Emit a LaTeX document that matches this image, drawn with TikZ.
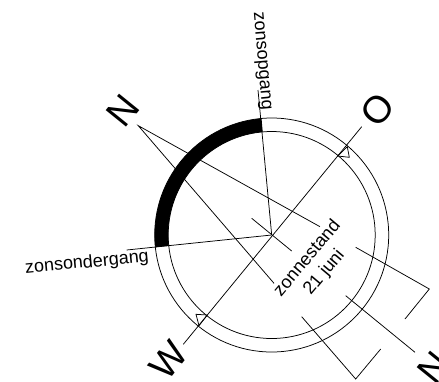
\documentclass[tikz,border=0pt]{standalone}
\usepackage{fontspec}
\setmainfont{Liberation Sans}
\usetikzlibrary{calc}
\begin{document}
\begin{tikzpicture}[x=1pt,y=-1pt,
  ln/.style={draw=black,line width=0.75pt},
  lab/.style={font=\fontsize{18}{22}\selectfont,inner sep=0pt,align=center},
  big/.style={font=\fontsize{38}{38}\selectfont,inner sep=0pt,rotate=51}]
\useasboundingbox (0,0) rectangle (439,381);
\clip (0,0) rectangle (439,381);
\coordinate (c) at (271.7,235);
% rings and black sunlit arc
\fill[black] (c) ++(95:117pt) arc[start angle=95,end angle=186,radius=117pt]
  -- ($(c)+(186:103.5pt)$) arc[start angle=186,end angle=95,radius=103.5pt] -- cycle;
\draw[ln] (c) circle[radius=117pt];
\draw[ln] (c) circle[radius=103.5pt];
% named end points
\coordinate (rise) at (258,90);
\coordinate (set) at (126.7,250);
\coordinate (o) at (361.7,126.7);
\coordinate (w) at (183.3,344.3);
\coordinate (nw) at (251.7,218.3);
\coordinate (se) at (291.7,251);
\coordinate (n) at (138.3,125.7);
\coordinate (a1) at (320,226.7);
\coordinate (a2) at (274,283.3);
\coordinate (b1) at (355.7,247.3);
\coordinate (b2) at (429.3,289);
\coordinate (b3) at (405,319);
\coordinate (d1) at (345.7,295.7);
\coordinate (d2) at (415,352.3);
\coordinate (e1) at (301.7,316.7);
\coordinate (e2) at (355.7,379);
\coordinate (e3) at (380.7,349);
\coordinate (t1) at (337.7,156);
\coordinate (t2) at (347.3,146.7);
\coordinate (t3) at (349.3,157.3);
\coordinate (u1) at (207.3,315);
\coordinate (u2) at (199,325.7);
\coordinate (u3) at (196,314.3);
\draw[ln] (c) -- (rise);
\draw[ln] (c) -- (set);
\draw[ln] (o) -- (w);
\draw[ln] (nw) -- (se);
\draw[ln] (a1) -- (n) -- (a2);
\draw[ln] (b1) -- (b2) -- (b3);
\draw[ln] (d1) -- (d2);
\draw[ln] (e1) -- (e2) -- (e3);
\draw[ln] (t1) -- (t2) -- (t3) -- cycle;
\draw[ln] (u1) -- (u2) -- (u3) -- cycle;
% labels
\node[lab,rotate=-85] (zo) at (261,61) {zonsopgang};
\node[lab,rotate=5.5] (zw) at (87,263) {zonsondergang};
\node[lab,rotate=50] (zs) at (316,265.5) {zonnestand\\21 juni};
\node[big] (ln1) at (122.7,111) {N};
\node[big] (lo) at (377.7,109.3) {O};
\node[big] (lw) at (168.3,360) {W};
\node[big] (ln2) at (433.7,367.7) {N};
\end{tikzpicture}
\end{document}
